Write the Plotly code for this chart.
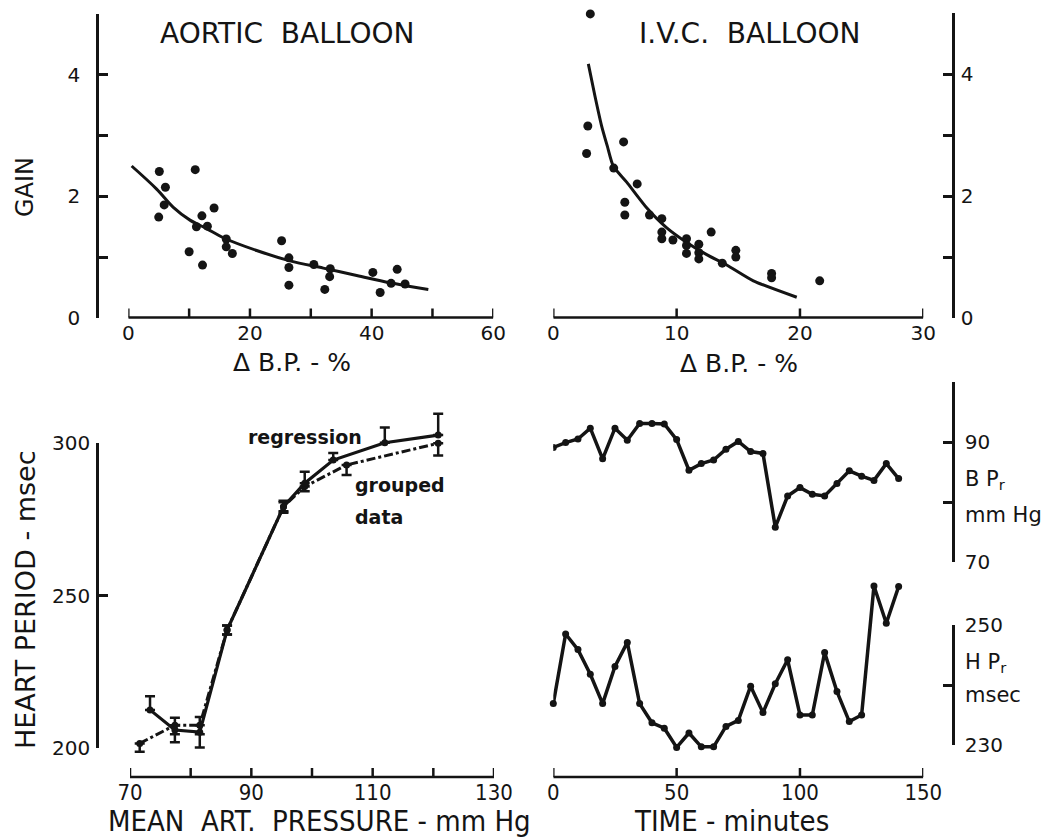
import plotly.graph_objects as go

W, H = 1059, 839


def fx(px):
    return px / W


def fy(py):
    return 1 - py / H


# ---------------- data ----------------
# Aortic balloon: gain vs delta BP (%)
aortic_dbp = [5.1, 6.1, 5.9, 5.0, 11.0, 12.1, 14.1, 11.2, 13.0, 10.0, 12.2, 16.1, 16.1, 17.1,
              25.2, 26.4, 26.4, 26.4, 30.5, 33.2, 33.1, 32.3, 40.2, 41.4, 44.2, 43.2, 45.5]
aortic_gain = [2.41, 2.15, 1.86, 1.66, 2.44, 1.68, 1.81, 1.50, 1.51, 1.09, 0.87, 1.30, 1.17, 1.06,
               1.27, 0.99, 0.83, 0.54, 0.88, 0.81, 0.68, 0.47, 0.75, 0.42, 0.80, 0.57, 0.56]
aortic_fit_x = [0.55, 4.66, 7.40, 10.14, 12.88, 15.62, 21.10, 26.58, 32.06, 37.54, 43.02, 49.32]
aortic_fit_y = [2.50, 2.12, 1.82, 1.61, 1.47, 1.32, 1.11, 0.94, 0.82, 0.70, 0.58, 0.47]

# I.V.C. balloon
ivc_dbp = [3.0, 2.8, 2.7, 5.7, 4.9, 6.8, 5.8, 5.8, 7.8, 8.8, 8.8, 8.8, 9.7, 10.8, 10.8, 10.8,
           11.8, 11.8, 11.8, 12.8, 13.7, 14.8, 14.8, 17.7, 17.7, 21.6]
ivc_gain = [4.99, 3.15, 2.70, 2.89, 2.46, 2.20, 1.90, 1.69, 1.69, 1.63, 1.41, 1.30, 1.28, 1.30,
            1.19, 1.06, 1.21, 1.07, 0.97, 1.41, 0.90, 1.11, 1.00, 0.73, 0.66, 0.61]
ivc_fit_x = [2.84, 3.38, 3.92, 4.38, 4.87, 5.95, 7.57, 9.20, 10.82, 12.44, 14.06, 16.22, 19.74]
ivc_fit_y = [4.17, 3.64, 3.15, 2.82, 2.49, 2.23, 1.81, 1.48, 1.24, 1.04, 0.87, 0.61, 0.34]

# Heart period vs mean arterial pressure
reg_map = [73.3, 77.4, 81.5, 86.0, 95.3, 98.8, 103.5, 112.0, 120.8]
reg_hp = [212.5, 205.9, 205.2, 238.7, 279.1, 286.8, 294.4, 300.1, 302.6]
reg_err_plus = [4.5, 4.0, 5.0, 1.5, 2.0, 3.8, 2.3, 5.0, 7.0]
reg_err_minus = [0.0, 4.0, 5.0, 1.5, 2.0, 0.0, 0.0, 0.0, 0.0]
grp_map = [71.6, 77.4, 81.5, 86.0, 95.3, 98.8, 105.7, 120.8]
grp_hp = [201.5, 207.5, 207.5, 238.7, 279.1, 285.7, 292.8, 299.9]
grp_err_plus = [0.0, 0.0, 0.0, 1.5, 1.5, 0.0, 0.0, 0.0]
grp_err_minus = [2.7, 3.0, 3.0, 1.5, 1.5, 1.5, 3.3, 4.0]

# Time course
time_min = [0, 5, 10, 15, 20, 25, 30, 35, 40, 45, 50, 55, 60, 65, 70, 75, 80, 85, 90, 95,
            100, 105, 110, 115, 120, 125, 130, 135, 140]
bp_r = [89.1, 89.9, 90.5, 92.3, 87.2, 92.3, 90.3, 93.1, 93.1, 93.0, 90.4, 85.3, 86.4, 87.0,
        88.8, 90.1, 88.4, 88.1, 75.8, 81.0, 82.4, 81.3, 81.0, 83.1, 85.2, 84.3, 83.6, 86.4, 83.9]
hp_r = [236.9, 248.5, 245.9, 241.8, 236.9, 243.1, 247.1, 236.9, 233.7, 232.8, 229.6, 232.0,
        229.7, 229.7, 233.1, 234.1, 239.8, 235.4, 240.2, 244.2, 235.0, 235.0, 245.4, 238.9,
        233.9, 235.0, 256.5, 250.3, 256.4]

# tick marks (all) and labelled ticks of the axes
gain_x_ticks = [0, 10, 20, 30, 40, 50, 60]
gain_x_labels = [0, 20, 40, 60]
ivc_x_ticks = [0, 10, 20, 30]
map_ticks = [70, 80, 90, 100, 110, 120, 130]
map_labels = [70, 90, 110, 130]
time_ticks = [0, 50, 100, 150]
gain_y_labels = [0, 2, 4]
gain_y_minor = [1, 3, 5]
hp_y_labels = [200, 250, 300]
bpr_labels = [70, 90]
bpr_minor = [80, 100]
hpr_labels = [230, 250]
hpr_minor = [240]

# ---------------- style ----------------
INK = "#141414"
FONT = "DejaVu Sans"
NARROW = "Liberation Sans Narrow, DejaVu Sans Condensed, Liberation Sans, sans-serif"
LW = 2.5

fig = go.Figure()

# Panel A
fig.add_trace(go.Scatter(x=aortic_fit_x, y=aortic_fit_y, mode="lines",
                         line=dict(color=INK, width=3, shape="spline"), xaxis="x", yaxis="y"))
fig.add_trace(go.Scatter(x=aortic_dbp, y=aortic_gain, mode="markers", cliponaxis=False,
                         marker=dict(color=INK, size=9), xaxis="x", yaxis="y"))
# Panel B
fig.add_trace(go.Scatter(x=ivc_fit_x, y=ivc_fit_y, mode="lines",
                         line=dict(color=INK, width=3, shape="spline", smoothing=0.6),
                         xaxis="x2", yaxis="y2"))
fig.add_trace(go.Scatter(x=ivc_dbp, y=ivc_gain, mode="markers", cliponaxis=False,
                         marker=dict(color=INK, size=9), xaxis="x2", yaxis="y2"))
# Panel C
fig.add_trace(go.Scatter(x=grp_map, y=grp_hp, mode="lines+markers",
                         line=dict(color=INK, width=3, dash="dashdot"),
                         marker=dict(color=INK, size=7),
                         error_y=dict(type="data", symmetric=False, array=grp_err_plus,
                                      arrayminus=grp_err_minus, color=INK, thickness=2.5, width=5),
                         xaxis="x3", yaxis="y3"))
fig.add_trace(go.Scatter(x=reg_map, y=reg_hp, mode="lines+markers",
                         line=dict(color=INK, width=3.2),
                         marker=dict(color=INK, size=7),
                         error_y=dict(type="data", symmetric=False, array=reg_err_plus,
                                      arrayminus=reg_err_minus, color=INK, thickness=2.5, width=5),
                         xaxis="x3", yaxis="y3"))
fig.add_trace(go.Scatter(x=[100], y=[250], mode="markers", marker=dict(opacity=0),
                         hoverinfo="skip", xaxis="x3", yaxis="y4"))
# Panel D
fig.add_trace(go.Scatter(x=time_min, y=bp_r, mode="lines+markers",
                         line=dict(color=INK, width=3.5), marker=dict(color=INK, size=7),
                         xaxis="x4", yaxis="y5"))
fig.add_trace(go.Scatter(x=time_min, y=hp_r, mode="lines+markers", cliponaxis=False,
                         line=dict(color=INK, width=3.5), marker=dict(color=INK, size=7),
                         xaxis="x4", yaxis="y6"))
fig.add_trace(go.Scatter(x=[50], y=[240], mode="markers", marker=dict(opacity=0),
                         hoverinfo="skip", xaxis="x4", yaxis="y7"))


def ax(minor_vals=None, **kw):
    d = dict(showline=True, linecolor=INK, linewidth=LW, ticks="inside", ticklen=9,
             tickwidth=LW, tickcolor=INK, showgrid=False, zeroline=False, automargin=False,
             tickfont=dict(family=FONT, size=20, color=INK), fixedrange=True)
    if minor_vals:
        d["minor"] = dict(tickvals=minor_vals, ticks="inside", ticklen=9, tickwidth=LW,
                          tickcolor=INK, showgrid=False)
    d.update(kw)
    return d


def xax(**kw):
    # horizontal axes: labels from the axis, baseline + ticks drawn as axis-referenced shapes
    d = ax(showline=False, ticks="")
    d.update(kw)
    return d


def hidden(**kw):
    d = dict(visible=False, showgrid=False, zeroline=False, fixedrange=True, automargin=False)
    d.update(kw)
    return d


narrow_tick = dict(family=NARROW, size=22, color=INK)

HP_LO = 200 - (777 - 748) / 3.05      # heart period value at the x-axis line (py=777)
HPR_LO = 230 - (777 - 745) / 6.0      # HPr value at the x-axis line

fig.update_layout(
    width=W, height=H, autosize=False,
    margin=dict(l=0, r=0, t=0, b=0, pad=0, autoexpand=False),
    paper_bgcolor="white", plot_bgcolor="rgba(0,0,0,0)",
    showlegend=False,
    xaxis=xax(domain=[fx(128.3), fx(493.3)], range=[0, 60], anchor="y",
              tickvals=gain_x_labels, ticklabelstandoff=1),
    yaxis=ax(gain_y_minor, domain=[fy(318), fy(14)], range=[0, 5], anchor="free",
             position=fx(97), side="left", tickvals=gain_y_labels, ticklabelstandoff=12),
    xaxis2=xax(domain=[fx(553.3), fx(923.3)], range=[0, 30], anchor="y2",
               tickvals=ivc_x_ticks, ticklabelstandoff=1),
    yaxis2=ax(gain_y_minor, domain=[fy(318), fy(13.3)], range=[0, 5], anchor="free",
              position=fx(953), side="right", tickvals=gain_y_labels, ticklabelstandoff=2),
    xaxis3=xax(domain=[fx(130), fx(494)], range=[70, 130], anchor="y3",
               tickvals=map_labels, tickfont=narrow_tick, ticklabelstandoff=0),
    yaxis3=hidden(domain=[fy(777), fy(397.25)], range=[HP_LO, 315]),
    yaxis4=ax(None, domain=[fy(748), fy(443)], range=[200, 300], anchor="free", position=fx(97),
              side="left", tickvals=hp_y_labels, ticklabelstandoff=2),
    xaxis4=xax(domain=[fx(553.3), fx(923.3)], range=[0, 150], anchor="y6",
               tickvals=time_ticks, tickfont=narrow_tick, ticklabelstandoff=0),
    yaxis5=ax(bpr_minor, domain=[fy(562), fy(382)], range=[70, 100], anchor="free",
              position=fx(953), side="right", tickvals=bpr_labels, ticklabelstandoff=6),
    yaxis6=hidden(domain=[fy(777), fy(565)], range=[HPR_LO, 260]),
    yaxis7=ax(hpr_minor, domain=[fy(745), fy(625)], range=[230, 250], anchor="free",
              position=fx(953), side="right", tickvals=hpr_labels, ticklabelstandoff=6),
)


def x_axis_shapes(xref, ticks, line_py, ticklen=9):
    lo, hi = min(ticks), max(ticks)
    y0 = fy(line_py)
    fig.add_shape(type="line", xref=xref, yref="paper", x0=lo, x1=hi, y0=y0, y1=y0,
                  line=dict(color=INK, width=LW), layer="above")
    for v in ticks:
        fig.add_shape(type="line", xref=xref, yref="paper", x0=v, x1=v, y0=y0,
                      y1=fy(line_py - ticklen), line=dict(color=INK, width=LW), layer="above")


x_axis_shapes("x", gain_x_ticks, 317.5)
x_axis_shapes("x2", ivc_x_ticks, 317.5)
x_axis_shapes("x3", map_ticks, 777)
x_axis_shapes("x4", time_ticks, 777)


def label(text, px, py, size=24, family=FONT, xanchor="center", angle=0, bold=False):
    if bold:
        text = "<b>" + text + "</b>"
    fig.add_annotation(text=text, x=fx(px), y=fy(py), xref="paper", yref="paper",
                       xanchor=xanchor, yanchor="middle", showarrow=False, textangle=angle,
                       font=dict(family=family, size=size, color=INK))


label("AORTIC  BALLOON", 287, 34, size=28)
label("I.V.C.  BALLOON", 749, 34, size=28)
label("GAIN", 25, 187, size=24, angle=-90)
label("Δ B.P. - %", 292, 362, size=25)
label("Δ B.P. - %", 739, 363, size=25)
label("HEART PERIOD - msec", 25, 600, size=27, angle=-90)
label("regression", 305, 437, size=19, bold=True)
label("grouped", 353, 485, size=19, xanchor="left", bold=True)
label("data", 353, 517, size=19, xanchor="left", bold=True)
label("B P<sub>r</sub>", 963, 480, size=21, xanchor="left")
label("mm Hg", 963, 515, size=21, xanchor="left")
label("H P<sub>r</sub>", 963, 663, size=21, xanchor="left")
label("msec", 963, 695, size=21, xanchor="left")
label("MEAN  ART.  PRESSURE - mm Hg", 319, 821, size=29, family=NARROW)
label("TIME - minutes", 731, 821, size=29, family=NARROW)

fig.write_html("out.html")
